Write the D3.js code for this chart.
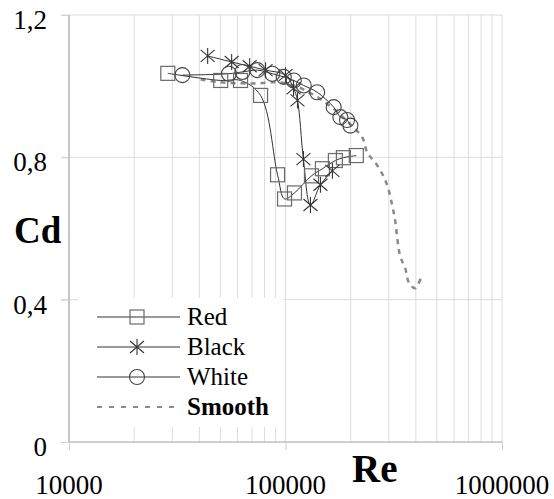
<!DOCTYPE html>
<html>
<head>
<meta charset="utf-8">
<script src="https://cdn.jsdelivr.net/npm/d3@7"></script>
</head>
<body style="margin:0">
<svg width="554" height="499"></svg>
<script>
// values
var redRe = [28600, 50200, 62000, 76700, 91900, 99000, 110000, 131800, 148100, 170000, 185100, 212400];
var redCd = [1.036, 1.016, 1.016, 0.974, 0.751, 0.683, 0.700, 0.748, 0.768, 0.791, 0.799, 0.805];

var blackRe = [43700, 56400, 68300, 80900, 100000, 108900, 113600, 121000, 130400, 145000, 164700];
var blackCd = [1.085, 1.068, 1.056, 1.045, 1.031, 0.994, 0.960, 0.795, 0.666, 0.723, 0.762];

var whiteRe = [33400, 54800, 63200, 74100, 86900, 98200, 109200, 121400, 140000, 167000, 179200, 192400, 199400];
var whiteCd = [1.031, 1.035, 1.040, 1.045, 1.035, 1.026, 1.016, 1.002, 0.983, 0.941, 0.913, 0.905, 0.889];

var smoothRe = [40600, 50200, 62000, 75100, 89900, 105500, 123700, 148100, 179200, 203600, 226400, 238700,
    259800, 282900, 298300, 311300, 321300, 328200, 338800, 357300, 372700, 397200, 427900];
var smoothCd = [1.019, 1.011, 1.008, 1.008, 1.011, 1.005, 0.988, 0.960, 0.920, 0.887, 0.856, 0.813,
    0.785, 0.748, 0.712, 0.664, 0.621, 0.573, 0.522, 0.488, 0.446, 0.432, 0.472];

var xTicks = [10000, 100000, 1000000];
var yTicks = [0, 0.4, 0.8, 1.2];
var legendNames = ["Red", "Black", "White", "Smooth"];

var fontName = 'Liberation Serif';

var svg = d3.select('svg')
    .attr('font-family', fontName)
    .style('font-family', fontName);

var x = d3.scaleLog().domain([10000, 1000000]).range([69, 502]);
var y = d3.scaleLinear().domain([0, 1.2]).range([442, 15]);

function label(sel, size, bold) {
    return sel
        .attr('font-family', fontName)
        .style('font-family', fontName)
        .style('font-size', size + 'px')
        .style('font-weight', bold ? 'bold' : 'normal')
        .attr('fill', '#000');
}

// grid
svg.append('g')
    .selectAll('line')
    .data(x.ticks())
    .enter()
    .append('line')
    .attr('x1', function (d) { return x(d); })
    .attr('x2', function (d) { return x(d); })
    .attr('y1', y(1.2))
    .attr('y2', y(0))
    .attr('stroke', '#dcdcdc')
    .attr('stroke-width', 1);

svg.append('g')
    .selectAll('line')
    .data(yTicks.slice(1))
    .enter()
    .append('line')
    .attr('x1', 61)
    .attr('x2', x(1000000))
    .attr('y1', function (d) { return y(d); })
    .attr('y2', function (d) { return y(d); })
    .attr('stroke', '#dcdcdc')
    .attr('stroke-width', 1);

// axes
var xAxis = svg.append('g')
    .attr('transform', 'translate(0,' + y(0) + ')')
    .call(d3.axisBottom(x).tickValues(xTicks).tickSize(8).tickFormat(''));
xAxis.select('.domain').attr('stroke', '#a0a0a0').attr('d', 'M' + x.range()[0] + ',0H' + x.range()[1]);
xAxis.selectAll('.tick line').attr('stroke', '#d0d0d0');

var yAxis = svg.append('g')
    .attr('transform', 'translate(' + x(10000) + ',0)')
    .call(d3.axisLeft(y).tickValues(yTicks).tickSize(8).tickPadding(14)
        .tickFormat(function (d) { return d === 0 ? '0' : d.toFixed(1).replace('.', ','); }));
yAxis.attr('font-family', fontName).attr('font-size', 27);
yAxis.select('.domain').attr('stroke', '#a0a0a0').attr('d', 'M0,' + y.range()[0] + 'V' + y.range()[1]);
yAxis.selectAll('.tick line').attr('stroke', '#d0d0d0');
label(yAxis.selectAll('.tick text').attr('dy', '0.5em'), 27, false);

label(svg.append('g')
    .selectAll('text')
    .data(xTicks)
    .enter()
    .append('text')
    .attr('x', function (d) { return x(d); })
    .attr('y', 494)
    .attr('text-anchor', 'middle')
    .text(function (d) { return d3.format('d')(d); }), 27, false);

// axis titles
label(svg.append('text').attr('x', 14).attr('y', 243).text('Cd'), 37, true);
label(svg.append('text').attr('x', 352).attr('y', 482).text('Re'), 39, true);

// series
var line = d3.line()
    .x(function (d) { return x(d[0]); })
    .y(function (d) { return y(d[1]); })
    .curve(d3.curveCatmullRom.alpha(0.5));

function pairs(a, b) {
    return a.map(function (v, i) { return [v, b[i]]; });
}

var redData = pairs(redRe, redCd);
var blackData = pairs(blackRe, blackCd);
var whiteData = pairs(whiteRe, whiteCd);
var smoothData = pairs(smoothRe, smoothCd);

svg.append('path')
    .datum(smoothData)
    .attr('d', line)
    .attr('fill', 'none')
    .attr('stroke', '#8a8a8a')
    .attr('stroke-width', 2.5)
    .attr('stroke-dasharray', '5,5');

[redData, blackData, whiteData].forEach(function (s) {
    svg.append('path')
        .datum(s)
        .attr('d', line)
        .attr('fill', 'none')
        .attr('stroke', '#333')
        .attr('stroke-width', 1);
});

var starPath = 'M0,-8V8M-7,-6L7,6M-7,6L7,-6';

function square(g) {
    g.append('rect')
        .attr('x', -7).attr('y', -7)
        .attr('width', 14).attr('height', 14)
        .attr('fill', 'none')
        .attr('stroke', '#6a6a6a')
        .attr('stroke-width', 1.2);
}
function star(g) {
    g.append('path')
        .attr('d', starPath)
        .attr('fill', 'none')
        .attr('stroke', '#333')
        .attr('stroke-width', 1.1);
}
function circle(g) {
    g.append('circle')
        .attr('r', 7.5)
        .attr('fill', 'none')
        .attr('stroke', '#444')
        .attr('stroke-width', 1.1);
}

function markers(data, draw) {
    svg.append('g')
        .selectAll('g')
        .data(data)
        .enter()
        .append('g')
        .attr('transform', function (d) { return 'translate(' + [x(d[0]), y(d[1])] + ')'; })
        .each(function () { draw(d3.select(this)); });
}

markers(redData, square);
markers(blackData, star);
markers(whiteData, circle);

// legend
var legend = svg.append('g');
legend.append('rect')
    .attr('x', 78).attr('y', 298)
    .attr('width', 205).attr('height', 129)
    .attr('fill', '#fff');

var rowY = [317, 347, 377, 407];
var drawers = [square, star, circle];

legendNames.forEach(function (name, i) {
    var row = legend.append('g').attr('transform', 'translate(0,' + rowY[i] + ')');
    if (i < 3) {
        row.append('line')
            .attr('x1', 97).attr('x2', 180)
            .attr('stroke', '#333').attr('stroke-width', 1);
        drawers[i](row.append('g').attr('transform', 'translate(137,0)'));
    } else {
        row.append('line')
            .attr('x1', 97).attr('x2', 177)
            .attr('stroke', '#8a8a8a').attr('stroke-width', 2)
            .attr('stroke-dasharray', '5,7');
    }
    label(row.append('text').attr('x', 187).attr('y', 8).text(name), 25, i === 3);
});
</script>
</body>
</html>
